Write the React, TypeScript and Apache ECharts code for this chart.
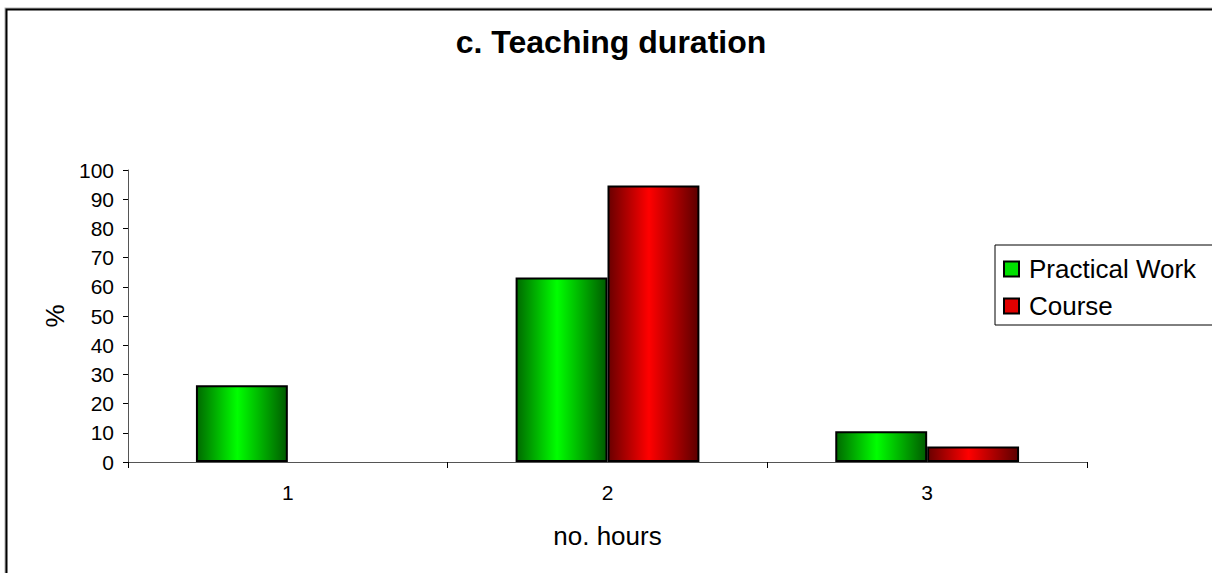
import React, { useEffect, useRef } from "react";
import * as echarts from "echarts";

const categories = ["1", "2", "3"];
const practicalWork = [26.3, 63.2, 10.5];
const course = [0, 94.7, 5.3];
const seriesNames = ["Practical Work", "Course"];
const titleText = "c. Teaching duration";
const yName = "%";
const xName = "no. hours";

const FONT = "Arial, 'Liberation Sans', Helvetica, sans-serif";

function grad(edgeL: string, mid: string, edgeR: string) {
  return new echarts.graphic.LinearGradient(0, 0, 1, 0, [
    { offset: 0, color: edgeL },
    { offset: 0.45, color: mid },
    { offset: 1, color: edgeR },
  ]);
}

// zero-height bars are not outlined in the reference
function toData(values: number[]) {
  return values.map((v) => (v === 0 ? { value: v, itemStyle: { borderWidth: 0 } } : v));
}

export default function App() {
  const ref = useRef<HTMLDivElement>(null);
  useEffect(() => {
    document.body.style.margin = "0";
    const chart = echarts.init(ref.current!, null, { renderer: "svg" });
    chart.setOption({
      animation: false,
      backgroundColor: "#ffffff",
      title: {
        text: titleText,
        left: 611,
        textAlign: "center",
        top: 26,
        padding: 0,
        textStyle: { fontFamily: FONT, fontSize: 32, fontWeight: "bold", color: "#000" },
      },
      graphic: [
        {
          type: "rect",
          shape: { x: 6.5, y: 9.5, width: 1240, height: 620 },
          style: { fill: "none", stroke: "#000", lineWidth: 2, shadowColor: "rgba(0,0,0,0.3)", shadowOffsetX: -1, shadowOffsetY: -1, shadowBlur: 1 },
          silent: true,
          z: -1,
        },
      ],
      legend: {
        orient: "vertical",
        left: 995,
        top: 245,
        padding: [11, 40, 6, 8],
        borderColor: "#000",
        borderWidth: 1,
        itemWidth: 15,
        itemHeight: 15,
        itemGap: 11,
        icon: "rect",
        textStyle: { fontFamily: FONT, fontSize: 26, lineHeight: 26, color: "#000", padding: [0, 0, 0, 5] },
        data: [
          { name: seriesNames[0], itemStyle: { color: "#00e000", borderColor: "#000", borderWidth: 2 } },
          { name: seriesNames[1], itemStyle: { color: "#e00000", borderColor: "#000", borderWidth: 2 } },
        ],
      },
      grid: { left: 128, right: 125, top: 170, bottom: 111, containLabel: false },
      xAxis: {
        type: "category",
        data: categories,
        name: xName,
        nameLocation: "middle",
        nameGap: 61,
        nameTextStyle: { fontFamily: FONT, fontSize: 26, color: "#000" },
        axisLine: { lineStyle: { color: "#555", width: 1 } },
        axisTick: { show: true, alignWithLabel: false, length: 6, lineStyle: { color: "#000" } },
        axisLabel: { fontFamily: FONT, fontSize: 21, color: "#000", margin: 20 },
      },
      yAxis: {
        type: "value",
        min: 0,
        max: 100,
        interval: 10,
        name: yName,
        nameLocation: "middle",
        nameRotate: 90,
        nameGap: 60,
        nameTextStyle: { fontFamily: FONT, fontSize: 26, color: "#000" },
        axisLine: { show: true, lineStyle: { color: "#555", width: 1 } },
        axisTick: { show: true, length: 5, lineStyle: { color: "#000" } },
        splitLine: { show: false },
        axisLabel: { fontFamily: FONT, fontSize: 21, color: "#000", margin: 14 },
      },
      series: [
        {
          name: seriesNames[0],
          type: "bar",
          data: toData(practicalWork),
          barGap: "0%",
          barCategoryGap: "42.5%",
          itemStyle: { color: grad("#006a00", "#00ff00", "#005c00"), borderColor: "#000", borderWidth: 2 },
        },
        {
          name: seriesNames[1],
          type: "bar",
          data: toData(course),
          barGap: "0%",
          barCategoryGap: "42.5%",
          itemStyle: { color: grad("#6a0000", "#ff0000", "#5c0000"), borderColor: "#000", borderWidth: 2 },
        },
      ],
    });
    return () => chart.dispose();
  }, []);
  return <div ref={ref} style={{ width: 1212, height: 573 }} />;
}
